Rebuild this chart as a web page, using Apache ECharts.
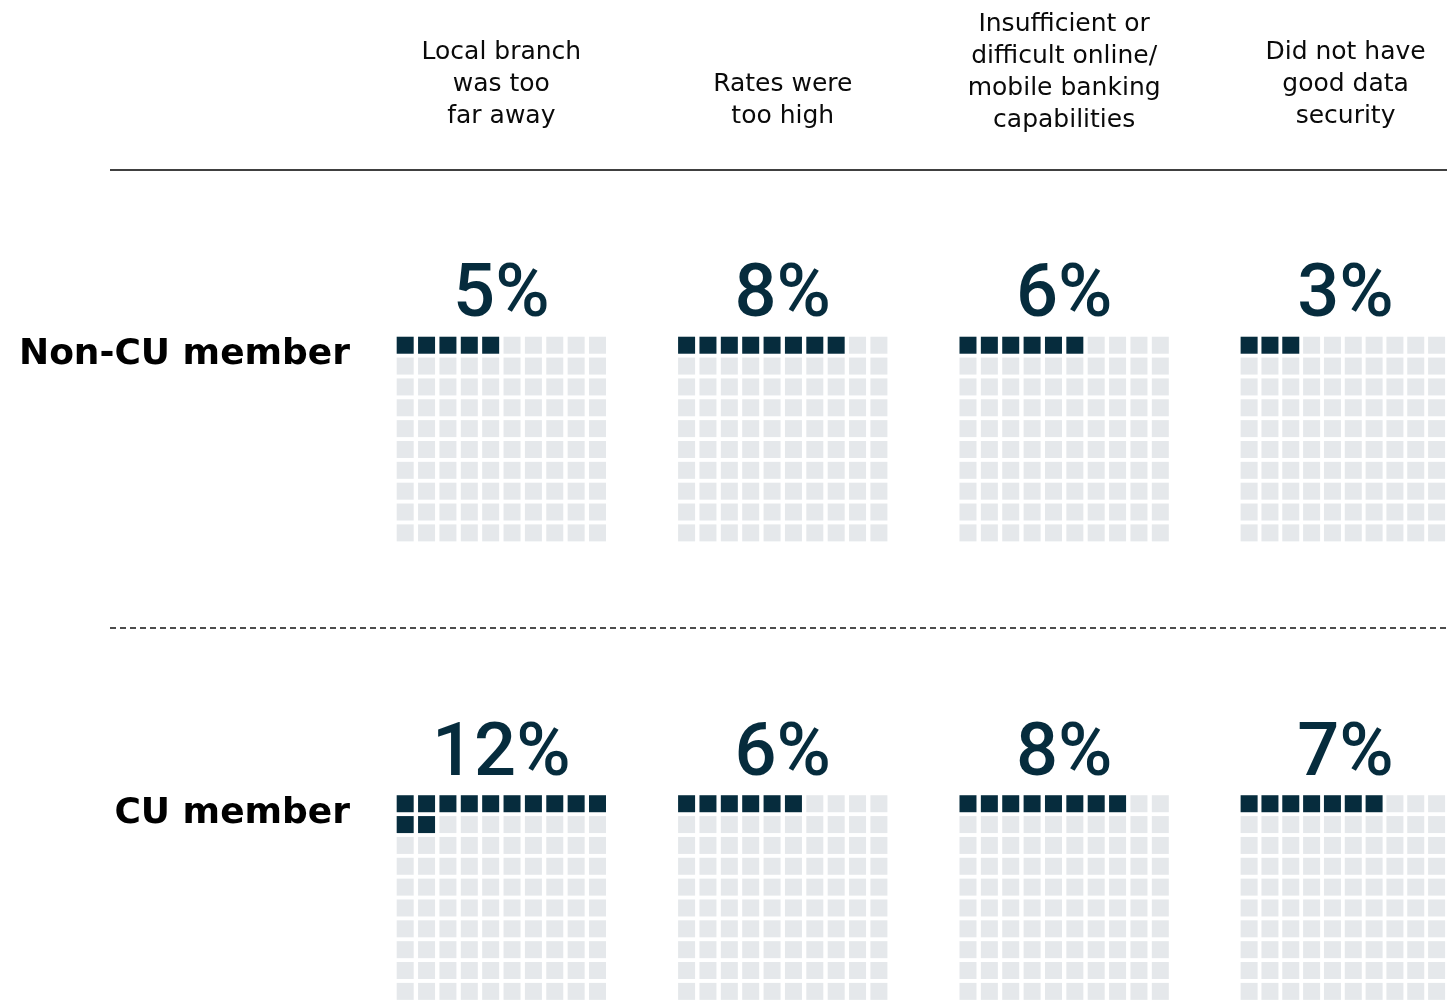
<!DOCTYPE html>
<html>
<head>
<meta charset="utf-8">
<script src="https://cdn.jsdelivr.net/npm/echarts@6/dist/echarts.min.js"></script>
<style>
html,body{margin:0;padding:0;background:#fff;}
#chart{width:1447px;height:1003px;}
</style>
</head>
<body>
<div id="chart"></div>
<script>
// ---- data ----
const categories = [
  'Local branch\nwas too\nfar away',
  'Rates were\ntoo high',
  'Insufficient or\ndifficult online/\nmobile banking\ncapabilities',
  'Did not have\ngood data\nsecurity'
];
const groups = ['Non-CU member', 'CU member'];
const nonCuValues = [5, 8, 6, 3];
const cuValues = [12, 6, 8, 7];
const valuesByGroup = [nonCuValues, cuValues];

// ---- layout ----
const NAVY = '#062c3d';
const EMPTY = '#e5e8eb';
const pitchX = 21.37, pitchY = 20.85, cell = 17;
const colLeft0 = 394.5, colStep = 281.4;
const gridTops = [334.8, 793.3];
const pctCenters = [297, 756];
const rowLabelY = [355, 814];

const chart = echarts.init(document.getElementById('chart'), null, {renderer: 'canvas'});

const grids = [], xAxes = [], yAxes = [], series = [], graphics = [];
groups.forEach((g, gi) => {
  valuesByGroup[gi].forEach((v, ci) => {
    const idx = grids.length;
    const left = colLeft0 + ci * colStep;
    grids.push({left: left, top: gridTops[gi], width: pitchX * 10, height: pitchY * 10});
    xAxes.push({type: 'value', gridIndex: idx, min: -0.5, max: 9.5, show: false});
    yAxes.push({type: 'value', gridIndex: idx, min: -0.5, max: 9.5, inverse: true, show: false});
    const data = [];
    for (let i = 0; i < 100; i++) {
      data.push({value: [i % 10, Math.floor(i / 10)], itemStyle: {color: i < v ? NAVY : EMPTY, opacity: 1}});
    }
    series.push({
      type: 'scatter', xAxisIndex: idx, yAxisIndex: idx,
      symbol: 'rect', symbolSize: [cell, cell], data: data,
      itemStyle: {opacity: 1},
      silent: true, animation: false
    });
    graphics.push({
      type: 'text',
      x: left + pitchX * 5, y: pctCenters[gi],
      style: {
        text: v + '%', fill: NAVY, align: 'center', verticalAlign: 'middle',
        font: '500 74px Roboto'
      }
    });
  });
  graphics.push({
    type: 'text', x: 350, y: rowLabelY[gi],
    style: {text: g, fill: '#000', align: 'right', verticalAlign: 'middle', font: 'bold 36px "DejaVu Sans"'}
  });
});

categories.forEach((c, ci) => {
  graphics.push({
    type: 'text', x: colLeft0 + ci * colStep + pitchX * 5, y: ci === 2 ? 136 : 132,
    style: {text: c, fill: '#0a0a0a', align: 'center', verticalAlign: 'bottom', font: '25px "DejaVu Sans"', lineHeight: 32}
  });
});

graphics.push({type: 'line', shape: {x1: 110, y1: 170, x2: 1447, y2: 170}, style: {stroke: '#000', lineWidth: 1.5}});
graphics.push({type: 'line', shape: {x1: 110, y1: 628, x2: 1447, y2: 628}, style: {stroke: '#111', lineWidth: 1.5, lineDash: [6, 4]}});

chart.setOption({
  animation: false,
  backgroundColor: '#fff',
  grid: grids, xAxis: xAxes, yAxis: yAxes, series: series,
  graphic: graphics
});
</script>
</body>
</html>
